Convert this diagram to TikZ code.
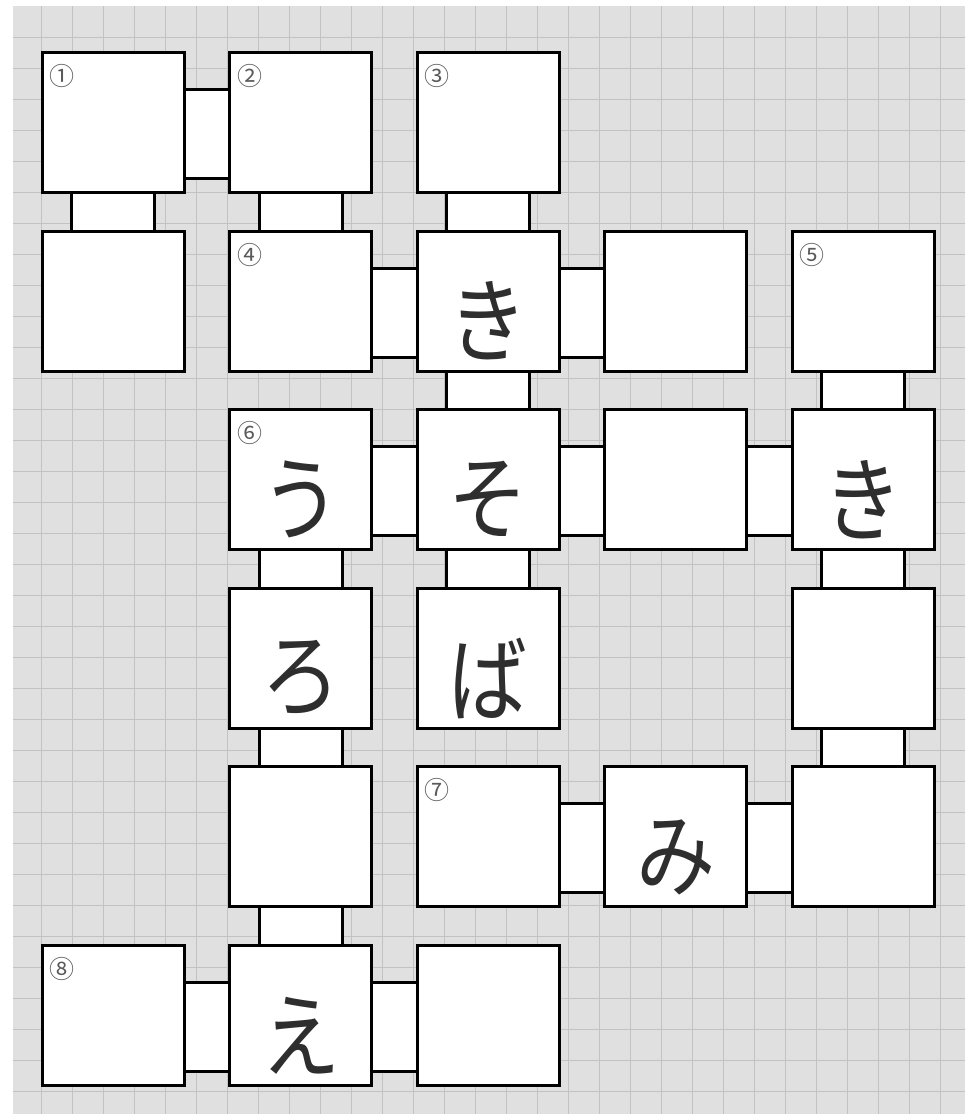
\documentclass[tikz,border=0pt]{standalone}
\usepackage{fontspec}
\newfontfamily\jp{Noto Sans CJK JP}
\usetikzlibrary{calc}
\definecolor{bggray}{HTML}{E0E0E0}
\definecolor{gridgray}{HTML}{C2C2C2}
\definecolor{numgray}{HTML}{5A5A5A}
\definecolor{kanacol}{HTML}{2E2E2E}
\tikzset{
  cell/.style={draw=black, fill=white, line width=3pt, minimum width=142pt, minimum height=140pt, inner sep=0pt, outer sep=0pt},
  conn/.style={draw=black, fill=white, line width=3pt},
  num/.style={font=\jp\fontsize{25}{25}\selectfont, text=numgray, inner sep=0pt},
  kana/.style={font=\jp\fontsize{86}{86}\selectfont, text=kanacol, inner sep=0pt, yscale=1.08, xscale=0.92},
  gridline/.style={draw=gridgray, line width=0.6pt},
}
\newcommand{\hconn}[2]{\draw[conn] ($(#1.north east)+(0,37)$) rectangle ($(#2.south west)+(0,-14)$);}
\newcommand{\vconn}[2]{\draw[conn] ($(#1.south west)+(29.5,0)$) rectangle ($(#2.north east)+(-29.5,0)$);}
\begin{document}
\begin{tikzpicture}[x=1pt, y=-1pt]
\useasboundingbox (0,0) rectangle (973,1114);
% background
\fill[bggray] (13,6) rectangle (965,1114);
\foreach \gx in {41,72,...,965} {\draw[gridline] (\gx,6) -- (\gx,1114);}
\foreach \gy in {37,68,...,1114} {\draw[gridline] (13,\gy) -- (965,\gy);}
% cells
\node[cell] (b11) at (113,122.5) {};
\node[cell] (b12) at (300.6,122.5) {};
\node[cell] (b13) at (488.2,122.5) {};
\node[cell] (b21) at (113,301.1) {};
\node[cell] (b22) at (300.6,301.1) {};
\node[cell] (b23) at (488.2,301.1) {};
\node[cell] (b24) at (675.8,301.1) {};
\node[cell] (b25) at (863.4,301.1) {};
\node[cell] (b32) at (300.6,479.7) {};
\node[cell] (b33) at (488.2,479.7) {};
\node[cell] (b34) at (675.8,479.7) {};
\node[cell] (b35) at (863.4,479.7) {};
\node[cell] (b42) at (300.6,658.3) {};
\node[cell] (b43) at (488.2,658.3) {};
\node[cell] (b45) at (863.4,658.3) {};
\node[cell] (b52) at (300.6,836.9) {};
\node[cell] (b53) at (488.2,836.9) {};
\node[cell] (b54) at (675.8,836.9) {};
\node[cell] (b55) at (863.4,836.9) {};
\node[cell] (b61) at (113,1015.5) {};
\node[cell] (b62) at (300.6,1015.5) {};
\node[cell] (b63) at (488.2,1015.5) {};
% connectors
\hconn{b11}{b12}
\hconn{b22}{b23}
\hconn{b23}{b24}
\hconn{b32}{b33}
\hconn{b33}{b34}
\hconn{b34}{b35}
\hconn{b53}{b54}
\hconn{b54}{b55}
\hconn{b61}{b62}
\hconn{b62}{b63}
\vconn{b11}{b21}
\vconn{b12}{b22}
\vconn{b13}{b23}
\vconn{b23}{b33}
\vconn{b25}{b35}
\vconn{b32}{b42}
\vconn{b33}{b43}
\vconn{b35}{b45}
\vconn{b42}{b52}
\vconn{b45}{b55}
\vconn{b52}{b62}
% redraw cells on top of connectors
\foreach \c in {b11,b12,b13,b21,b22,b23,b24,b25,b32,b33,b34,b35,b42,b43,b45,b52,b53,b54,b55,b61,b62,b63}
  {\draw[conn] (\c.north west) rectangle (\c.south east);}
% numbers
\node[num] (n1) at ($(b11.north west)+(20,23.5)$) {①};
\node[num] (n2) at ($(b12.north west)+(20,23.5)$) {②};
\node[num] (n3) at ($(b13.north west)+(20,23.5)$) {③};
\node[num] (n4) at ($(b22.north west)+(20,23.5)$) {④};
\node[num] (n5) at ($(b25.north west)+(20,23.5)$) {⑤};
\node[num] (n6) at ($(b32.north west)+(20,23.5)$) {⑥};
\node[num] (n7) at ($(b53.north west)+(20,23.5)$) {⑦};
\node[num] (n8) at ($(b61.north west)+(20,23.5)$) {⑧};
% kana
\node[kana] (k23) at ($(b23)+(0,20)$) {き};
\node[kana] (k32) at ($(b32)+(0,20)$) {う};
\node[kana] (k33) at ($(b33)+(0,20)$) {そ};
\node[kana] (k35) at ($(b35)+(0,20)$) {き};
\node[kana] (k42) at ($(b42)+(0,20)$) {ろ};
\node[kana] (k43) at ($(b43)+(0,20)$) {ば};
\node[kana] (k54) at ($(b54)+(0,20)$) {み};
\node[kana] (k62) at ($(b62)+(0,20)$) {え};
\end{tikzpicture}
\end{document}
